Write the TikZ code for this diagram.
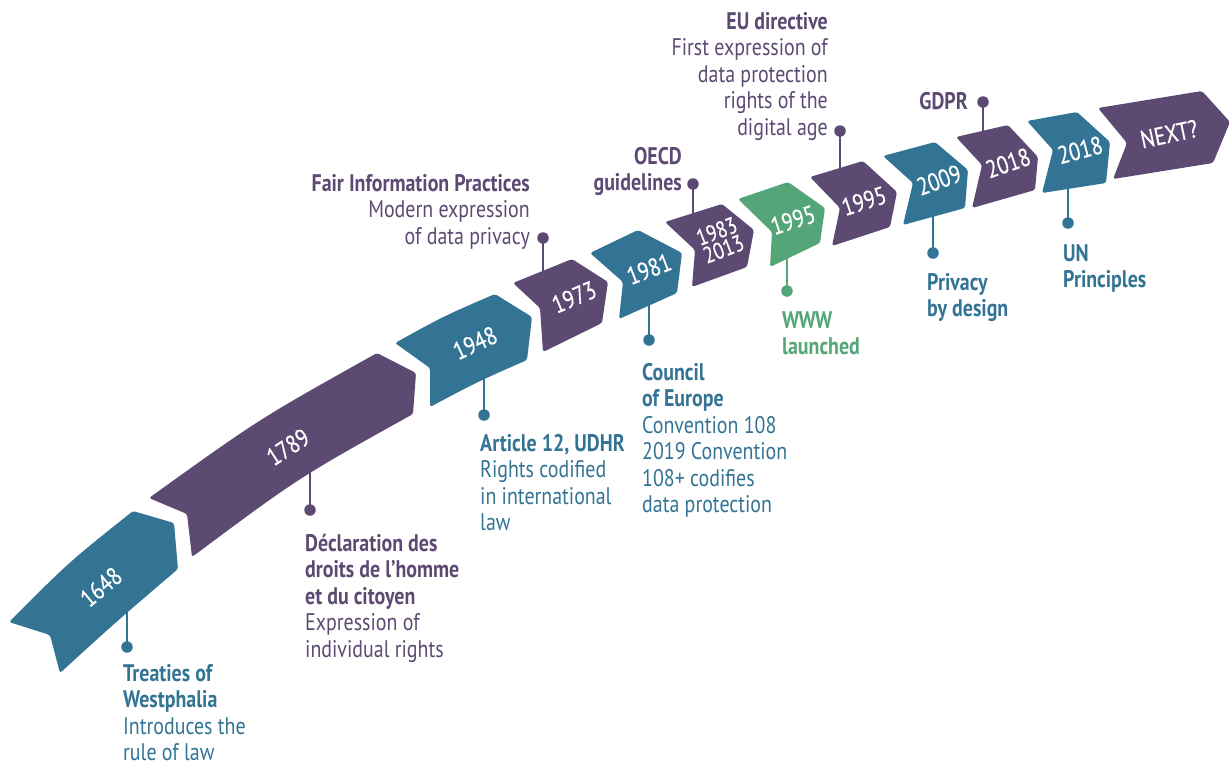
\documentclass[tikz,border=0pt]{standalone}
\usepackage{fontspec}
\setmainfont{PT Sans}[FakeStretch=0.83]
\newfontfamily\yrfont{PT Sans}[FakeStretch=0.83, FakeBold=0.4]
\definecolor{cteal}{HTML}{337495}
\definecolor{cpurp}{HTML}{5C4A72}
\definecolor{cgreen}{HTML}{54A578}
\tikzset{
  lab/.style={inner sep=0pt, font=\fontsize{24}{26.5}\selectfont, align=left, anchor=base west},
  labr/.style={inner sep=0pt, font=\fontsize{24}{26.5}\selectfont, align=right, anchor=base east},
  yr/.style={text=white, inner sep=0pt, font=\yrfont\fontsize{25}{21}\selectfont, align=center},
  dot/.style={circle, fill=#1, minimum size=11.5pt, inner sep=0pt},
  stem/.style={line width=2pt, draw=#1},
  chev/.style={fill=#1, rounded corners=2.5pt}
}
\begin{document}
\begin{tikzpicture}[x=1pt,y=-1pt]
\useasboundingbox (0,0) rectangle (1230,764);

% stems and dots
\node[dot=cteal] (d1648) at (127,647) {};
\coordinate (s1648) at (127,600);
\draw[stem=cteal] (s1648) -- (d1648.center);
\node[dot=cpurp] (d1789) at (310,510) {};
\coordinate (s1789) at (310,468);
\draw[stem=cpurp] (s1789) -- (d1789.center);
\node[dot=cteal] (d1948) at (484,415) {};
\coordinate (s1948) at (484,372);
\draw[stem=cteal] (s1948) -- (d1948.center);
\node[dot=cpurp] (d1973) at (543,238) {};
\coordinate (s1973) at (543,280);
\draw[stem=cpurp] (s1973) -- (d1973.center);
\node[dot=cteal] (d1981) at (649,340) {};
\coordinate (s1981) at (649,298);
\draw[stem=cteal] (s1981) -- (d1981.center);
\node[dot=cpurp] (d1983) at (693,184) {};
\coordinate (s1983) at (693,222);
\draw[stem=cpurp] (s1983) -- (d1983.center);
\node[dot=cgreen] (d1995g) at (787,291) {};
\coordinate (s1995g) at (787,252);
\draw[stem=cgreen] (s1995g) -- (d1995g.center);
\node[dot=cpurp] (d1995p) at (840,131) {};
\coordinate (s1995p) at (840,176);
\draw[stem=cpurp] (s1995p) -- (d1995p.center);
\node[dot=cteal] (d2009) at (933,253) {};
\coordinate (s2009) at (933,210);
\draw[stem=cteal] (s2009) -- (d2009.center);
\node[dot=cpurp] (d2018p) at (983,102) {};
\coordinate (s2018p) at (983,138);
\draw[stem=cpurp] (s2018p) -- (d2018p.center);
\node[dot=cteal] (d2018t) at (1068,223) {};
\coordinate (s2018t) at (1068,182);
\draw[stem=cteal] (s2018t) -- (d2018t.center);

% chevrons
\fill[chev=cteal] (9,622) .. controls (69,562) .. (133,511) -- (174,523) -- (178,569) .. controls (117,621) .. (60,673) -- (50,635) -- cycle;
\fill[chev=cpurp] (149,498) .. controls (259,419) .. (377,353) -- (416,373) -- (413,414) .. controls (298,478) .. (192,557) -- (187,514) -- cycle;
\fill[chev=cteal] (395,343) .. controls (444,316) .. (495,294) -- (532,317) -- (527,360) .. controls (477,382) .. (430,407) -- (430,368) -- cycle;
\fill[chev=cpurp] (513,283) -- (572,259) -- (608,282) -- (602,323) -- (543,352) -- (540,308) -- cycle;
\fill[chev=cteal] (590,253) -- (638,230) -- (682,253) -- (677,293) -- (619,319) -- (623,282) -- cycle;
\fill[chev=cpurp] (665,222) -- (722,204) -- (754,230) -- (747,267) -- (692,287) -- (695,250) -- cycle;
\fill[chev=cgreen] (738,199) -- (788,182) -- (825,208) -- (820,243) -- (770,267) -- (772,232) -- cycle;
\fill[chev=cpurp] (810,177) -- (863,161) -- (897,192) -- (890,227) -- (832,246) -- (840,208) -- cycle;
\fill[chev=cteal] (883,156) -- (935,142) -- (968,170) -- (965,208) -- (903,225) -- (913,183) -- cycle;
\fill[chev=cpurp] (956,137) -- (1008,125) -- (1038,157) -- (1035,190) -- (972,208) -- (982,165) -- cycle;
\fill[chev=cteal] (1027,121) -- (1077,112) -- (1110,142) -- (1106,183) -- (1042,193) -- (1053,150) -- cycle;
\fill[chev=cpurp] (1098,108) -- (1202,91) -- (1230,122) -- (1213,163) -- (1113,179) -- (1127,143) -- cycle;

% years
\node[yr, rotate=40] (y1648) at (101,587) {1648};
\node[yr, rotate=33] (y1789) at (288,447) {1789};
\node[yr, rotate=25] (y1948) at (475,343) {1948};
\node[yr, rotate=23] (y1973) at (574,297) {1973};
\node[yr, rotate=21] (y1981) at (649,269) {1981};
\node[yr, rotate=21, font=\yrfont\fontsize{23}{19}\selectfont] (y1983) at (720,240) {1983\\2013};
\node[yr, rotate=18] (y1995g) at (793,220) {1995};
\node[yr, rotate=18] (y1995p) at (864,201) {1995};
\node[yr, rotate=20] (y2009) at (939,180) {2009};
\node[yr, rotate=19] (y2018p) at (1008,163) {2018};
\node[yr, rotate=15] (y2018t) at (1080,150) {2018};
\node[yr, rotate=12] (ynext) at (1169,134) {NEXT?};

% labels (anchor = baseline of last line)
\node[lab, text=cteal] (t1648) at (123,760.5) {\textbf{Treaties of}\\\textbf{Westphalia}\\Introduces the\\rule of law};
\node[lab, text=cpurp] (t1789) at (305,657) {\textbf{Déclaration des}\\\textbf{droits de l’homme}\\\textbf{et du citoyen}\\Expression of\\individual rights};
\node[lab, text=cteal] (t1948) at (480,530.5) {\textbf{Article 12, UDHR}\\Rights codified\\in international\\law};
\node[labr, text=cpurp] (t1973) at (530,244) {\textbf{Fair Information Practices}\\Modern expression\\of data privacy};
\node[lab, text=cteal] (t1981) at (642,512.5) {\textbf{Council}\\\textbf{of Europe}\\Convention 108\\2019 Convention\\108+ codifies\\data protection};
\node[labr, text=cpurp] (t1983) at (682,190.5) {\textbf{OECD}\\\textbf{guidelines}};
\node[lab, text=cgreen] (t1995g) at (782,354.5) {\textbf{WWW}\\\textbf{launched}};
\node[labr, text=cpurp] (t1995p) at (828,135) {\textbf{EU directive}\\First expression of\\data protection\\rights of the\\digital age};
\node[labr, text=cpurp] (t2018p) at (968,109) {\textbf{GDPR}};
\node[lab, text=cteal] (t2009) at (927,316.5) {\textbf{Privacy}\\\textbf{by design}};
\node[lab, text=cteal] (t2018t) at (1063,287.5) {\textbf{UN}\\\textbf{Principles}};
\end{tikzpicture}
\end{document}
